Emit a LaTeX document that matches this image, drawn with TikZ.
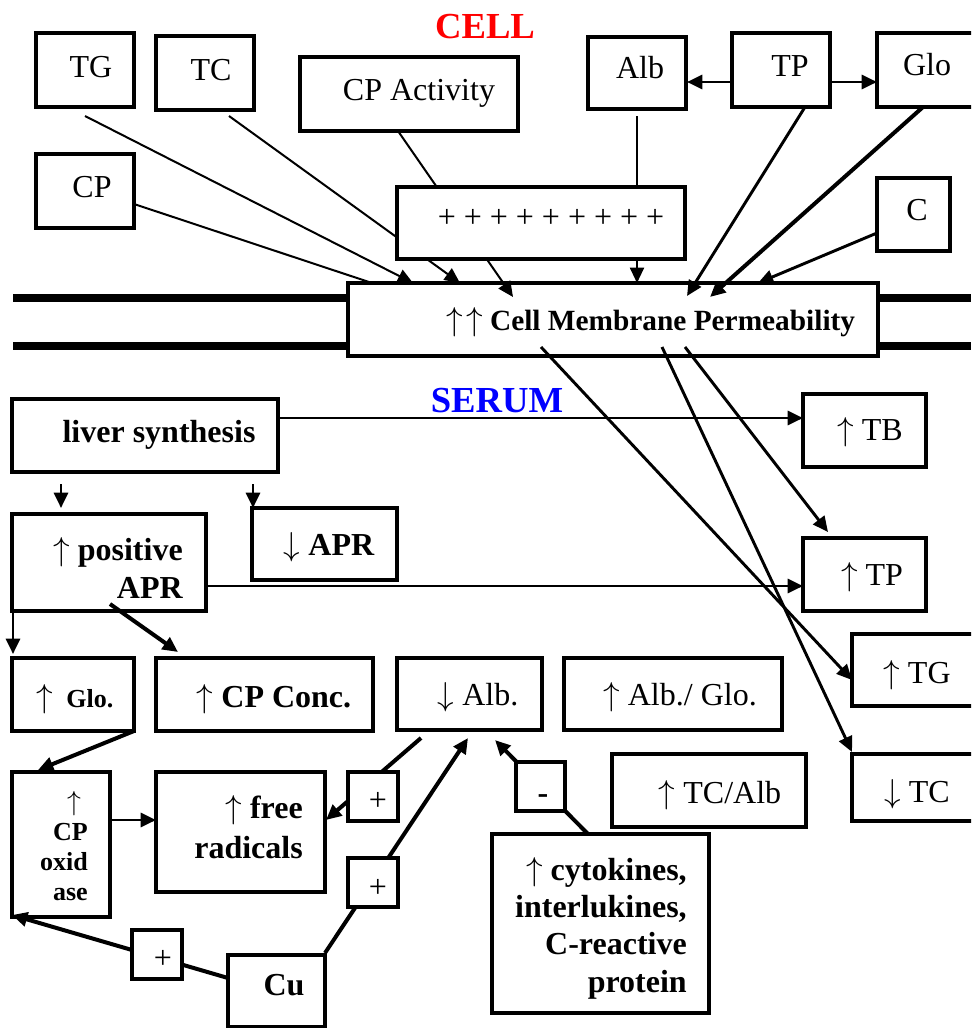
\documentclass[tikz,border=0pt]{standalone}
\usepackage{fontspec}
\setmainfont{Liberation Serif}
\usetikzlibrary{arrows.meta,fit}
\newcommand\upa{\ensuremath{\uparrow}}
\newcommand\dna{\ensuremath{\downarrow}}
\begin{document}
\begin{tikzpicture}[x=0.75pt,y=-0.75pt,
 box/.style={draw,line width=3pt,fill=white,inner sep=0pt},
 lab/.style={inner sep=0pt,anchor=base,font=\fontsize{24}{28}\selectfont},
 blab/.style={inner sep=0pt,anchor=base,font=\fontsize{24}{28}\selectfont\bfseries},
 slab/.style={inner sep=0pt,anchor=base,font=\fontsize{19.5}{22.5}\selectfont\bfseries},
 ttl/.style={inner sep=0pt,anchor=base,font=\fontsize{27.5}{30}\selectfont\bfseries},
 tip/.style={-{Triangle[length=11.5pt,width=10.5pt]}},
 lwa/.style={line width=1.5pt},
 lwb/.style={line width=2.2pt},
 lwc/.style={line width=3pt},
 memline/.style={line width=6.4pt}]
\useasboundingbox (0,0) rectangle (971,1028);
\clip (0,0) rectangle (971,1028);

% membrane double line
\draw[memline] (13,298) -- (348,298) (13,346) -- (348,346);
\draw[memline] (878,298) -- (971,298) (878,346) -- (971,346);

% ---------- boxes (cell) ----------
\node[box,fit={(36,33)(134,107)}] (tg) {};
\node[box,fit={(156,36)(254,110)}] (tc) {};
\node[box,fit={(300,57)(518,131)}] (cpa) {};
\node[box,fit={(36,154)(134,228)}] (cp) {};
\node[box,fit={(588,37)(686,109)}] (alb) {};
\node[box,fit={(732,33)(830,107)}] (tp) {};
\node[box,fit={(877,33)(1000,107)}] (glo) {};
\node[box,fit={(877,178)(950,251)}] (c) {};
\node[box,fit={(348,283)(878,356)}] (mem) {};
% ---------- boxes (serum) ----------
\node[box,fit={(12,399)(278,472)}] (liver) {};
\node[box,fit={(803,394)(926,467)}] (tb) {};
\node[box,fit={(12,514)(206,611)}] (papr) {};
\node[box,fit={(252,508)(397,580)}] (dapr) {};
\node[box,fit={(803,538)(926,611)}] (tps) {};
\node[box,fit={(852,634)(1000,706)}] (tgs) {};
\node[box,fit={(852,754)(1000,821)}] (tcs) {};
\node[box,fit={(12,658)(134,731)}] (glos) {};
\node[box,fit={(156,658)(373,731)}] (cpc) {};
\node[box,fit={(397,658)(542,730)}] (albs) {};
\node[box,fit={(564,658)(782,730)}] (ag) {};
\node[box,fit={(612,754)(806,827)}] (tca) {};
\node[box,fit={(492,834)(709,1013)}] (cyto) {};
\node[box,fit={(12,772)(110,917)}] (cpox) {};
\node[box,fit={(156,772)(325,892)}] (fr) {};
\node[box,fit={(228,955)(325,1027)}] (cu) {};

% ---------- connector end points ----------
\coordinate (tgS) at (85,116);   \coordinate (tgE) at (413,283);
\coordinate (tcS) at (229,116);  \coordinate (tcE) at (460,283);
\coordinate (cpS) at (134,204);  \coordinate (cpE) at (372,283);
\coordinate (cpaS) at (398,131); \coordinate (cpaE) at (513,297);
\coordinate (albS) at (637,116); \coordinate (albE) at (637,283);
\coordinate (tpL) at (732,82);   \coordinate (albR) at (687,82);
\coordinate (tpR) at (830,82);   \coordinate (gloL) at (877,82);
\coordinate (tpS) at (805,107);  \coordinate (tpE) at (687,296);
\coordinate (gloS) at (923,107); \coordinate (gloE) at (710,297);
\coordinate (cS) at (877,233);   \coordinate (cE) at (758,283);
\coordinate (m1) at (685,347);   \coordinate (tpsE) at (828,532);
\coordinate (m2) at (541,347);   \coordinate (tgsE) at (852,680);
\coordinate (m3) at (662,347);   \coordinate (tcsE) at (852,752);
\coordinate (lvR) at (278,418);  \coordinate (tbL) at (803,418);
\coordinate (lv1) at (61,484);   \coordinate (paT) at (61,508);
\coordinate (lv2) at (253,484);  \coordinate (daT) at (253,508);
\coordinate (paR) at (206,586);  \coordinate (tpsL) at (803,586);
\coordinate (paBL) at (13,611);  \coordinate (glT) at (13,654);
\coordinate (paB) at (110,604);  \coordinate (cpcT) at (178,652);
\coordinate (glBR) at (134,731); \coordinate (oxT) at (38,770);
\coordinate (oxR) at (110,820);  \coordinate (frL) at (156,820);
\coordinate (alB1) at (421,738); \coordinate (frR) at (326,820);
\coordinate (cuTR) at (325,953); \coordinate (alB2) at (468,738);
\coordinate (cuL) at (228,978);  \coordinate (oxBL) at (12,915);
\coordinate (cyT) at (588,834);  \coordinate (alB3) at (495,740);

% ---------- connectors ----------
\draw[lwa,tip] (tgS) -- (tgE);
\draw[lwa,tip] (tcS) -- (tcE);
\draw[lwa] (cpS) -- (cpE);
\draw[lwa,tip] (cpaS) -- (cpaE);
\draw[lwa,tip] (albS) -- (albE);
\draw[lwb,tip] (tpL) -- (albR);
\draw[lwb,tip] (tpR) -- (gloL);
\draw[lwb,tip] (tpS) -- (tpE);
\draw[lwc,tip] (gloS) -- (gloE);
\draw[lwb,tip] (cS) -- (cE);
\draw[lwb,tip] (m1) -- (tpsE);
\draw[lwb,tip] (m2) -- (tgsE);
\draw[lwb,tip] (m3) -- (tcsE);
\draw[lwb,tip] (lvR) -- (tbL);
\draw[lwb,tip] (lv1) -- (paT);
\draw[lwb,tip] (lv2) -- (daT);
\draw[lwb,tip] (paR) -- (tpsL);
\draw[lwb,tip] (paBL) -- (glT);
\draw[lwc,tip] (paB) -- (cpcT);
\draw[lwc,tip] (glBR) -- (oxT);
\draw[lwb,tip] (oxR) -- (frL);
\draw[lwc,tip] (alB1) -- (frR);
\draw[lwc,tip] (cuTR) -- (alB2);
\draw[lwc,tip] (cuL) -- (oxBL);
\draw[lwc,tip] (cyT) -- (alB3);

% ---------- boxes lying over connectors ----------
\node[box,fit={(397,187)(685,259)}] (plus) {};
\node[box,fit={(348,772)(398,821)}] (p1) {};
\node[box,fit={(348,858)(398,907)}] (p2) {};
\node[box,fit={(132,930)(182,979)}] (p3) {};
\node[box,fit={(516,762)(565,811)}] (minus) {};

% ---------- texts ----------
\node[ttl,text=red] (cellT) at (485,38) {CELL};
\node[ttl,text=blue] (serumT) at (497,412) {SERUM};
\node[lab] (tgT) at (91,77) {TG};
\node[lab] (tcT) at (211,80) {TC};
\node[lab] (cpaT) at (419,100) {CP Activity};
\node[lab] (cpT) at (92,197) {CP};
\node[lab] (albT) at (640,78) {Alb};
\node[lab] (tpT) at (790,76) {TP};
\node[lab] (gloT) at (927,75) {Glo};
\node[lab] (cT) at (917,220) {C};
\node[lab] (plusT) at (551,227) {+ + + + + + + + +};
\node[inner sep=0pt,anchor=base,font=\fontsize{22}{26}\selectfont] (memT) at (651,330) {{\fontsize{24}{28}\selectfont\upa\kern2pt\upa}\ \textbf{Cell Membrane Permeability}};
\node[blab] (liverT) at (159,442) {liver synthesis};
\node[lab] (tbT) at (870,440) {\upa\ TB};
\node[blab] (daprT) at (329,555) {\dna\ APR};
\node[blab,anchor=base east,align=right,font=\fontsize{24}{28.5}\selectfont\bfseries] (paprT) at (183,598) {\upa\ positive\\APR};
\node[lab] (tpsT) at (872,585) {\upa\ TP};
\node[lab] (tgsT) at (917,683) {\upa\ TG};
\node[lab] (tcsT) at (917,802) {\dna\ TC};
\node[lab] (glosT) at (75,707) {\upa\ \,{\fontsize{19.5}{22}\selectfont\bfseries Glo.}};
\node[blab] (cpcT2) at (274,707) {\upa\ CP Conc.};
\node[lab] (albsT) at (478,705) {\dna\ Alb.};
\node[lab] (agT) at (680,705) {\upa\ Alb./ Glo.};
\node[lab] (tcaT) at (720,803) {\upa\ TC/Alb};
\node[blab] (minusT) at (543,803) {-};
\node[blab,anchor=base east,align=right,font=\fontsize{24}{28}\selectfont\bfseries] (cytoT) at (687,992) {\upa\ cytokines,\\interlukines,\\C-reactive\\protein};
\node[slab,anchor=base east,align=right] (cpoxT) at (88,900) {\upa\hspace*{5pt}\\CP\\oxid\\ase};
\node[blab,anchor=base east,align=right,font=\fontsize{24}{30}\selectfont\bfseries] (frT) at (303,858) {\upa\ free\\radicals};
\node[blab] (cuT) at (284,995) {Cu};
\node[lab] (p1T) at (378,810) {+};
\node[lab] (p2T) at (378,897) {+};
\node[lab] (p3T) at (163,968) {+};
\end{tikzpicture}
\end{document}
